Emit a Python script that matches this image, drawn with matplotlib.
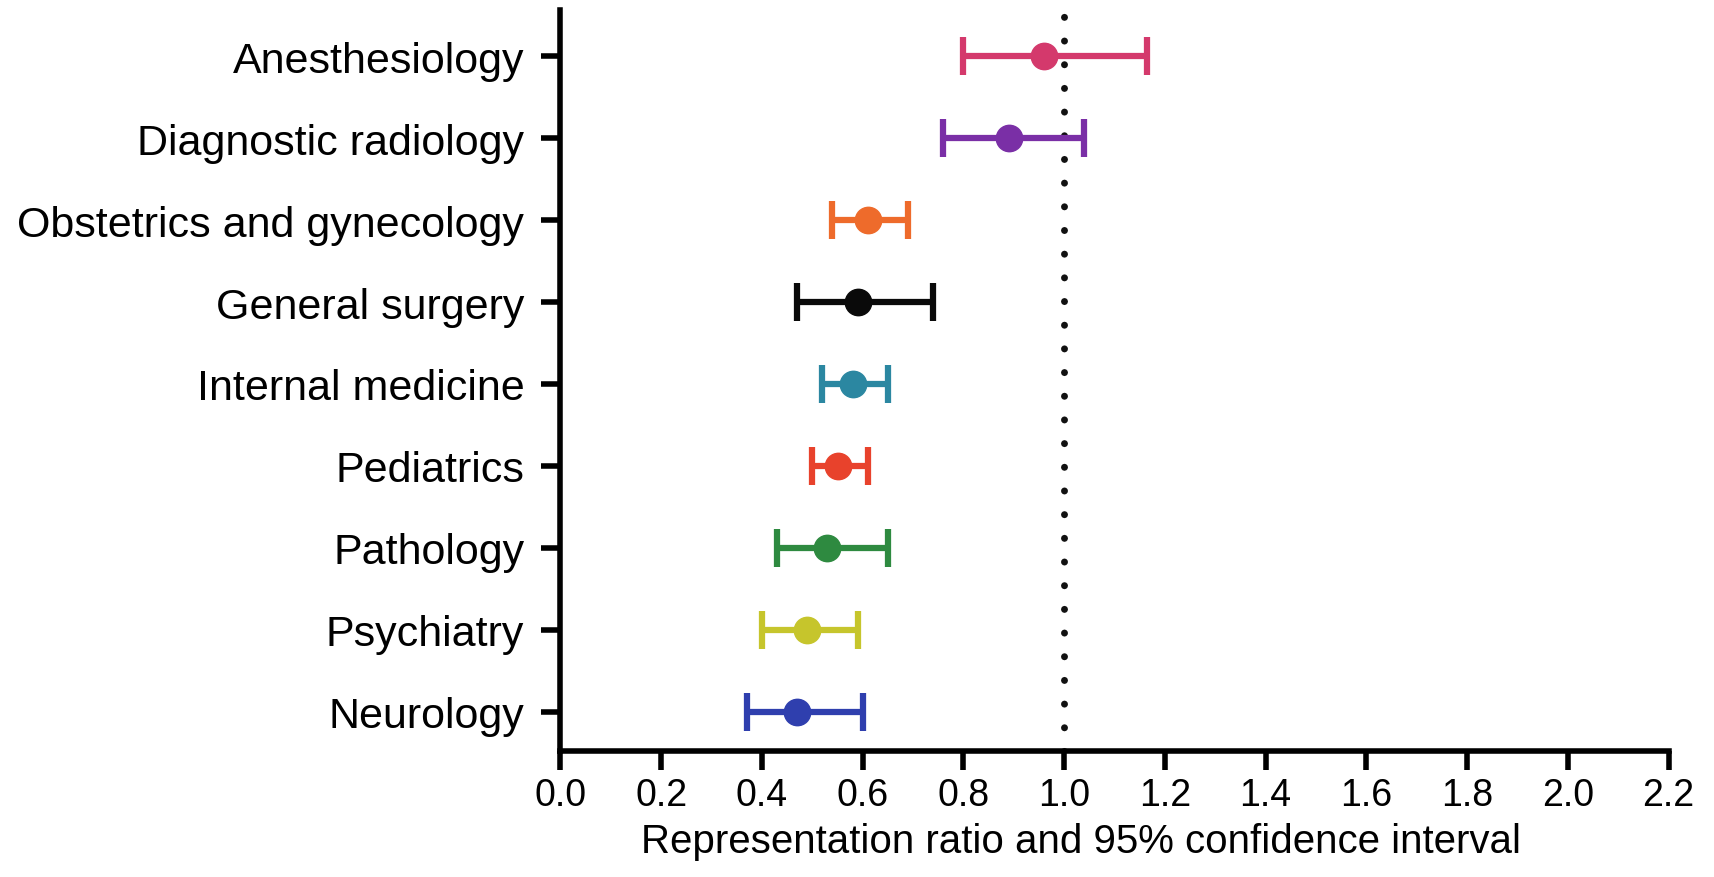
import matplotlib
matplotlib.use("Agg")
import matplotlib.pyplot as plt

plt.rcParams['font.family'] = ['Liberation Sans', 'DejaVu Sans']

# specialties listed bottom to top
specialties = ["Neurology", "Psychiatry", "Pathology", "Pediatrics",
               "Internal medicine", "General surgery",
               "Obstetrics and gynecology", "Diagnostic radiology",
               "Anesthesiology"]
ratio = [0.47, 0.49, 0.53, 0.55, 0.58, 0.59, 0.61, 0.89, 0.96]
ci_low = [0.37, 0.40, 0.43, 0.50, 0.52, 0.47, 0.54, 0.76, 0.80]
ci_high = [0.60, 0.59, 0.65, 0.61, 0.65, 0.74, 0.69, 1.04, 1.165]
colors = ["#2f3fae", "#c6c52c", "#2e8a40", "#e8422c", "#2b87a1",
          "#0a0a0a", "#ee6b2b", "#7a2fa6", "#d4396c"]

xticks = [0.0, 0.2, 0.4, 0.6, 0.8, 1.0, 1.2, 1.4, 1.6, 1.8, 2.0, 2.2]

fig = plt.figure(figsize=(17.14, 8.78), dpi=100)
ax = fig.add_axes([0.327, 0.1435, 0.6465, 0.8435])

# reference line at ratio = 1
ax.axvline(1.0, color="#111111", lw=5, linestyle=(0, (0.01, 3.4)),
           dash_capstyle="round", zorder=1)

for i, (r, lo, hi, c) in enumerate(zip(ratio, ci_low, ci_high, colors)):
    ax.errorbar(r, i, xerr=[[r - lo], [hi - r]], fmt="o", color=c,
                ms=19, elinewidth=4.5, capsize=14, capthick=4.5, zorder=3)

ax.set_xlim(0, 2.2)
ax.set_ylim(-0.48, 8.56)
ax.set_yticks(range(len(specialties)))
ax.set_yticklabels(specialties, fontsize=31)
ax.set_xticks(xticks)
ax.set_xticklabels([f"{t:.1f}" for t in xticks], fontsize=27)
ax.set_xlabel("Representation ratio and 95% confidence interval",
              fontsize=29)
ax.xaxis.set_label_coords(0.47, -0.096)

for side in ["top", "right"]:
    ax.spines[side].set_visible(False)
for side in ["left", "bottom"]:
    ax.spines[side].set_linewidth(4)
ax.tick_params(axis="both", width=4, length=14, direction="out")
ax.tick_params(axis="y", pad=12)
ax.tick_params(axis="x", pad=5)

fig.savefig("out.png", dpi=100)
